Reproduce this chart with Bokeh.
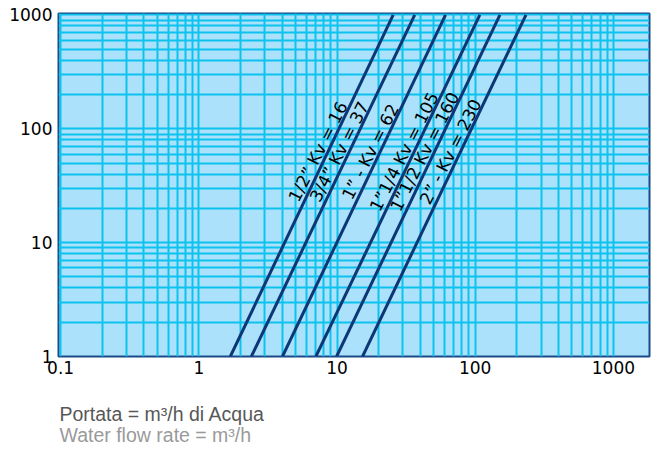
import math
from bokeh.plotting import figure
from bokeh.models import Range1d, FixedTicker, CustomJSTickFormatter, Title, ColumnDataSource
from bokeh.core.properties import value
from bokeh.embed import file_html
from bokeh.resources import INLINE

# ---- data ----
kv_values = [16, 37, 62, 105, 160, 230]
line_labels = ["1/2\u201d Kv = 16", "3/4\u201d Kv = 37", "1\u201d - Kv = 62",
               "1\u201d1/4 Kv = 105", "1\u201d1/2 Kv = 160", "2\u201d - Kv = 230"]
flow_at_dp_low = [1.69, 2.40, 4.03, 7.03, 9.93, 15.3]        # m3/h where curve meets 1
flow_at_dp_high = [25.5, 36.5, 61.0, 108.0, 151.0, 233.0]    # m3/h where curve meets 1000
dp_low = 1
dp_high = 1000
label_dp = 63                                                # height of the curve labels
x_ticks = [0.1, 1, 10, 100, 1000]
y_ticks = [1, 10, 100, 1000]
x_title_it = "Portata = m\u00b3/h di Acqua"
x_title_en = "Water flow rate = m\u00b3/h"

x_minor = [m * 10.0 ** e for e in range(-1, 3) for m in range(2, 10)]
y_minor = [m * 10.0 ** e for e in range(0, 3) for m in range(2, 10)]

NAVY = "#0c3777"
GRID = "#0cc2ee"

p = figure(width=660, height=450, x_axis_type="log", y_axis_type="log",
           x_range=Range1d(0.0965, 1825), y_range=Range1d(1, 1030),
           output_backend="svg", toolbar_location=None,
           min_border_left=58, min_border_right=11, min_border_top=13, min_border_bottom=94)

p.background_fill_color = "#abe1fa"
p.border_fill_color = "white"
p.outline_line_color = "#1b4a88"
p.outline_line_width = 2

p.xaxis.ticker = FixedTicker(ticks=x_ticks, minor_ticks=x_minor)
p.yaxis.ticker = FixedTicker(ticks=y_ticks, minor_ticks=y_minor)
fmt = CustomJSTickFormatter(code="return String(tick);")
p.xaxis.formatter = fmt
p.yaxis.formatter = fmt


def plain_axis(ax):
    ax.axis_line_color = None
    ax.major_tick_line_color = None
    ax.minor_tick_line_color = None
    ax.major_tick_out = 0
    ax.major_tick_in = 0
    ax.minor_tick_out = 0
    ax.minor_tick_in = 0
    ax.major_label_text_font = "DejaVu Sans"
    ax.major_label_text_font_size = "17px"
    ax.major_label_text_color = "black"


for ax in (p.xaxis[0], p.yaxis[0]):
    plain_axis(ax)
p.yaxis.major_label_standoff = 6
p.xaxis.major_label_standoff = 4

t1 = Title(text=x_title_it, align="left", offset=1, standoff=49,
           text_font="Liberation Sans", text_font_size="19.5px",
           text_font_style="normal", text_color="#585858")
t2 = Title(text=x_title_en, align="left", offset=1, standoff=-52, vertical_align="top",
           text_font="Liberation Sans", text_font_size="19.5px",
           text_font_style="normal", text_color="#9a9a9a")
p.add_layout(t1, "below")
p.add_layout(t2, "below")

for g in (p.xgrid, p.ygrid):
    g.grid_line_color = GRID
    g.grid_line_width = 2
    g.grid_line_alpha = 1
    g.minor_grid_line_color = GRID
    g.minor_grid_line_width = 2
    g.minor_grid_line_alpha = 1

# Kv curves
for q1, q2 in zip(flow_at_dp_low, flow_at_dp_high):
    p.line([q1, q2], [dp_low, dp_high], line_color=NAVY, line_width=3)

# labels placed on each curve at label_dp, shifted to the upper-left side
frac = (math.log10(label_dp) - math.log10(dp_low)) / (math.log10(dp_high) - math.log10(dp_low))
lx = [10 ** (math.log10(a) + (math.log10(b) - math.log10(a)) * frac)
      for a, b in zip(flow_at_dp_low, flow_at_dp_high)]
ly = [label_dp] * len(lx)
src = ColumnDataSource(dict(x=lx, y=ly, t=line_labels))
p.text(x="x", y="y", text="t", source=src, angle=math.radians(63),
       text_align="center", text_baseline="middle", x_offset=-10,
       text_font=value("DejaVu Sans"), text_font_size="17px", text_color="black")

open("out.html", "w").write(file_html(p, INLINE))
